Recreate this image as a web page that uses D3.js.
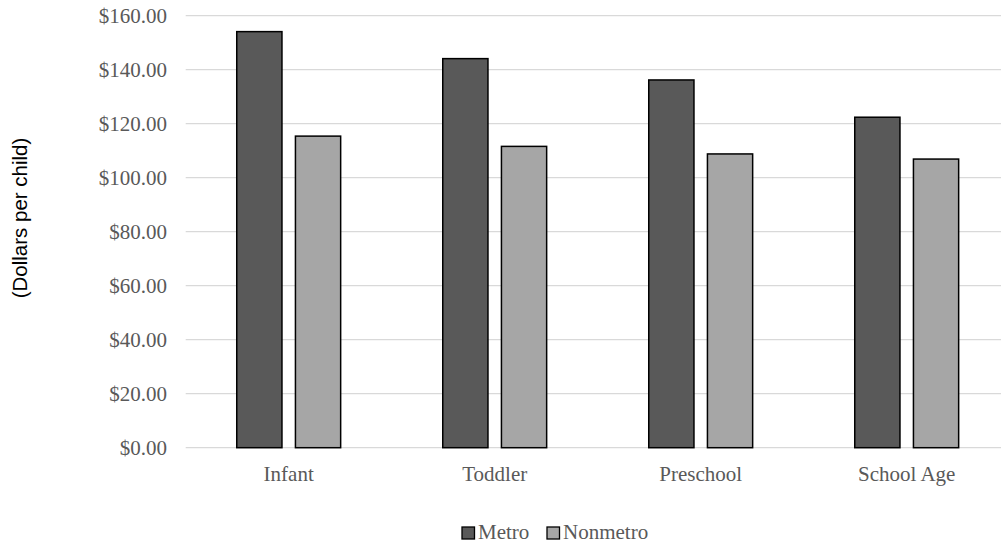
<!DOCTYPE html>
<html><head><meta charset="utf-8">
<script src="https://cdn.jsdelivr.net/npm/d3@7/dist/d3.min.js"></script>
<style>body{margin:0;background:#fff}</style>
</head><body>
<svg id="c" width="1001" height="546"></svg>
<script>
const categories = ["Infant","Toddler","Preschool","School Age"];
const series = ["Metro","Nonmetro"];
const metro = [154.1, 144.1, 136.2, 122.4];
const nonmetro = [115.4, 111.6, 108.8, 106.9];
const yTicks = [0,20,40,60,80,100,120,140,160];
const colors = ["#595959","#a6a6a6"];

(function(){
const svg = d3.select("#c");
const pl = 185.7, pr = 1009.7, pt = 15.7, pb = 447.7;
const x0 = d3.scaleBand().domain(categories).range([pl,pr]).padding(0);
const x1 = d3.scaleBand().domain(series).range([0,x0.bandwidth()]).paddingInner(0.204).paddingOuter(0.857);
const y = d3.scaleLinear().domain([0,160]).range([pb,pt]);

// gridlines
svg.append("g").selectAll("line").data(yTicks).join("line")
  .attr("x1",pl).attr("x2",pr)
  .attr("y1",d=>y(d)).attr("y2",d=>y(d))
  .attr("stroke","#d9d9d9").attr("stroke-width",1.3);

// y axis labels
const yAxis = d3.axisLeft(y).tickValues(yTicks).tickSize(0).tickPadding(0)
  .tickFormat(d=>"$"+d3.format(".2f")(d));
const ga = svg.append("g").attr("transform",`translate(167,0)`).call(yAxis);
ga.select(".domain").remove();
ga.selectAll("text").attr("font-family","'Liberation Serif','Times New Roman',serif")
  .attr("font-size",21).attr("fill","#595959").attr("dy","0.33em");

// bars
const data = categories.map((c,i)=>({c, vals:[metro[i],nonmetro[i]]}));
const g = svg.append("g");
data.forEach(d=>{
  series.forEach((s,j)=>{
    g.append("rect")
      .attr("x",x0(d.c)+x1(s)+0.75)
      .attr("width",x1.bandwidth()-1.5)
      .attr("y",y(d.vals[j]))
      .attr("height",y(0)-y(d.vals[j]))
      .attr("fill",colors[j]).attr("stroke","#000").attr("stroke-width",1.5);
  });
});

// x axis labels
const xAxis = d3.axisBottom(x0).tickSize(0).tickPadding(0);
const gx = svg.append("g").attr("transform",`translate(0,${pb})`).call(xAxis);
gx.select(".domain").remove();
gx.selectAll("text").attr("font-family","'Liberation Serif','Times New Roman',serif")
  .attr("font-size",21).attr("fill","#595959").attr("dy",null).attr("y",33);

// y title
svg.append("text").attr("transform","translate(27,218) rotate(-90)")
  .attr("text-anchor","middle").attr("font-family","'Liberation Sans',Arial,sans-serif")
  .attr("font-size",20.5).attr("fill","#000").text("(Dollars per child)");

// legend
const legX = [462, 547];
series.forEach((s,j)=>{
  svg.append("rect").attr("x",legX[j]).attr("y",527).attr("width",12.5).attr("height",12)
    .attr("fill",colors[j]).attr("stroke","#000").attr("stroke-width",1.3);
  svg.append("text").attr("x",legX[j]+16).attr("y",538.5)
    .attr("font-family","'Liberation Serif','Times New Roman',serif")
    .attr("font-size",21).attr("fill","#595959").text(s);
});
})();
</script>
</body></html>
